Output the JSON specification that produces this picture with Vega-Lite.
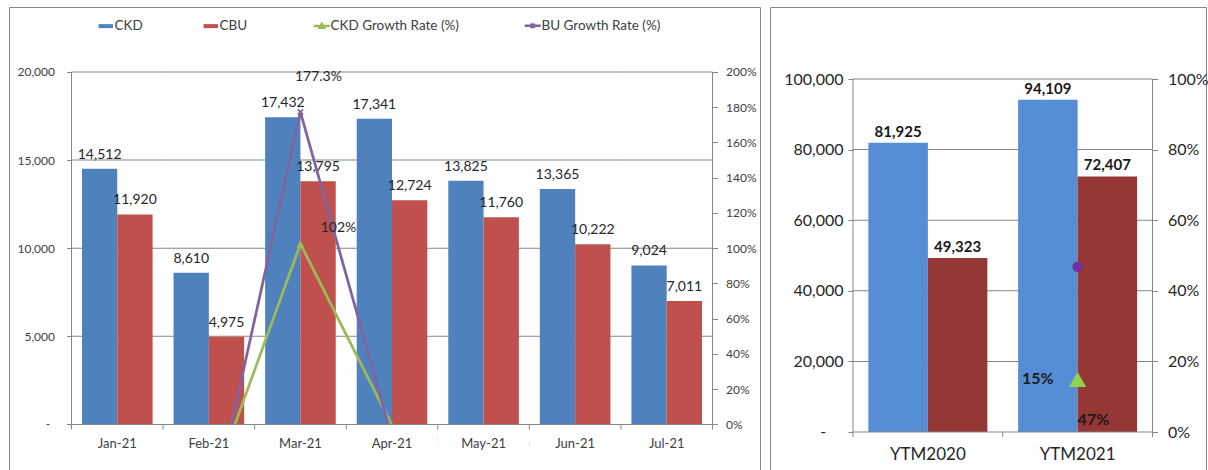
{
  "$schema": "https://vega.github.io/schema/vega-lite/v6.json",
  "padding": {"left": 8, "top": 6, "right": 0, "bottom": 0},
  "background": "white",
  "spacing": 8,
  "datasets": {
    "gridL": [
      {"m": "Jan-21", "v": [5000, 10000, 15000, 20000]},
      {"m": "Feb-21", "v": [5000, 10000, 15000, 20000]},
      {"m": "Mar-21", "v": [5000, 10000, 15000, 20000]},
      {"m": "Apr-21", "v": [5000, 10000, 15000, 20000]},
      {"m": "May-21", "v": [5000, 10000, 15000, 20000]},
      {"m": "Jun-21", "v": [5000, 10000, 15000, 20000]},
      {"m": "Jul-21", "v": [5000, 10000, 15000, 20000]}
    ],
    "gridR": [
      {"p": "YTM2020", "v": [20000, 40000, 60000, 80000, 100000]},
      {"p": "YTM2021", "v": [20000, 40000, 60000, 80000, 100000]}
    ]
  },
  "config": {
    "view": {"stroke": "#868686", "strokeWidth": 1},
    "axis": {"grid": false, "domain": false, "labelFont": "Lato", "labelColor": "#404040", "tickColor": "#868686", "tickSize": 5, "zindex": 1},
    "text": {"font": "Lato"},
    "legend": {"labelFont": "Lato"}
  },
  "resolve": {"scale": {"color": "independent", "xOffset": "independent"}},
  "hconcat": [
    {
      "width": 751,
      "height": 464,
      "data": {"values": [
        {"m": "Jan-21", "CKD": 14512, "CBU": 11920, "ckd_growth": null, "cbu_growth": null},
        {"m": "Feb-21", "CKD": 8610, "CBU": 4975, "ckd_growth": -0.4067, "cbu_growth": -0.5826},
        {"m": "Mar-21", "CKD": 17432, "CBU": 13795, "ckd_growth": 1.0246, "cbu_growth": 1.7729},
        {"m": "Apr-21", "CKD": 17341, "CBU": 12724, "ckd_growth": -0.0052, "cbu_growth": -0.0776},
        {"m": "May-21", "CKD": 13825, "CBU": 11760, "ckd_growth": -0.2028, "cbu_growth": -0.0758},
        {"m": "Jun-21", "CKD": 13365, "CBU": 10222, "ckd_growth": -0.0333, "cbu_growth": -0.1308},
        {"m": "Jul-21", "CKD": 9024, "CBU": 7011, "ckd_growth": -0.3248, "cbu_growth": -0.3141}
      ]},
      "layer": [
        {
          "layer": [
            {
              "data": {"name": "gridL"},
              "transform": [{"flatten": ["v"]}],
              "mark": {"type": "tick", "orient": "horizontal", "size": 91.57, "thickness": 1, "color": "#868686", "opacity": 1},
              "encoding": {
                "x": {"field": "m", "type": "nominal", "title": null, "scale": {"domain": ["Jan-21", "Feb-21", "Mar-21", "Apr-21", "May-21", "Jun-21", "Jul-21"], "paddingInner": 0, "paddingOuter": 0.6007, "align": 0.5682}},
                "y": {"field": "v", "type": "quantitative", "title": null, "scale": {"domain": [-2638.3, 23687.9], "nice": false, "zero": false}}
              }
            },
            {
              "transform": [{"fold": ["CKD", "CBU"], "as": ["series", "value"]}],
              "mark": {"type": "bar", "opacity": 1},
              "encoding": {
                "x": {"field": "m", "type": "nominal", "title": null,
                  "scale": {"domain": ["Jan-21", "Feb-21", "Mar-21", "Apr-21", "May-21", "Jun-21", "Jul-21"], "paddingInner": 0, "paddingOuter": 0.6007, "align": 0.5682},
                  "axis": {"orient": "bottom", "offset": -46.5, "labels": false, "ticks": false}},
                "xOffset": {"field": "series", "type": "nominal", "scale": {"domain": ["CKD", "CBU"], "paddingInner": 0, "paddingOuter": 0.297}},
                "y": {"field": "value", "type": "quantitative", "stack": null, "title": null,
                  "scale": {"domain": [-2638.3, 23687.9], "nice": false, "zero": false},
                  "axis": {"orient": "left", "offset": -62.5, "values": [0, 5000, 10000, 15000, 20000], "labelExpr": "datum.value == 0 ? '' : format(datum.value, ',')", "labelPadding": 12, "labelFontSize": 12}},
                "color": {"field": "series", "type": "nominal",
                  "scale": {"domain": ["CKD", "CBU", "ckd_growth", "cbu_growth"], "range": ["#4F81BD", "#C0504D", "#9BBB59", "#8064A2"]},
                  "legend": {
                    "orient": "none", "legendX": 90, "legendY": 12, "direction": "horizontal", "title": null,
                    "symbolSize": 1024, "labelFontSize": 13.5, "labelColor": "#404040", "labelOffset": 2, "columnPadding": 60, "padding": 0,
                    "labelExpr": "datum.label == 'ckd_growth' ? 'CKD Growth Rate (%)' : datum.label == 'cbu_growth' ? 'BU Growth Rate (%)' : datum.label",
                    "encoding": {"symbols": {
                      "shape": {"value": {"expr": "datum.value == 'CKD' || datum.value == 'CBU' ? 'M-0.45,-0.125H0.45V0.125H-0.45Z' : datum.value == 'ckd_growth' ? 'M-0.5,0H0.5M-0.14,0.12L0,-0.12L0.14,0.12Z' : 'M-0.5,0H0.5M-0.13,-0.13L0.13,0.13M-0.13,0.13L0.13,-0.13'"}},
                      "fill": {"value": {"expr": "datum.value == 'CKD' ? '#4F81BD' : datum.value == 'CBU' ? '#C0504D' : datum.value == 'ckd_growth' ? '#9BBB59' : '#8064A2'"}},
                      "stroke": {"value": {"expr": "datum.value == 'CKD' ? '#4F81BD' : datum.value == 'CBU' ? '#C0504D' : datum.value == 'ckd_growth' ? '#9BBB59' : '#8064A2'"}},
                      "strokeWidth": {"value": {"expr": "datum.value == 'CKD' || datum.value == 'CBU' ? 0 : 2.5"}},
                      "opacity": {"value": 1}
                    }}
                  }}
              }
            },
            {
              "transform": [{"fold": ["CKD", "CBU"], "as": ["series", "value"]}],
              "mark": {"type": "text", "fontSize": 14, "dy": -14, "color": "#262626", "baseline": "middle"},
              "encoding": {
                "x": {"field": "m", "type": "nominal", "title": null, "scale": {"domain": ["Jan-21", "Feb-21", "Mar-21", "Apr-21", "May-21", "Jun-21", "Jul-21"], "paddingInner": 0, "paddingOuter": 0.6007, "align": 0.5682}},
                "xOffset": {"field": "series", "type": "nominal", "scale": {"domain": ["CKD", "CBU"], "paddingInner": 0, "paddingOuter": 0.297}},
                "y": {"field": "value", "type": "quantitative", "title": null, "scale": {"domain": [-2638.3, 23687.9], "nice": false, "zero": false}},
                "text": {"field": "value", "type": "quantitative", "format": ","}
              }
            }
          ]
        },
        {
          "layer": [
            {
              "transform": [{"fold": ["ckd_growth", "cbu_growth"], "as": ["series", "rate"]}],
              "mark": {"type": "line", "strokeWidth": 2.75},
              "encoding": {
                "x": {"field": "m", "type": "nominal", "title": null, "scale": {"domain": ["Jan-21", "Feb-21", "Mar-21", "Apr-21", "May-21", "Jun-21", "Jul-21"], "paddingInner": 0, "paddingOuter": 0.6007, "align": 0.5682}},
                "y": {"field": "rate", "type": "quantitative", "title": null,
                  "scale": {"domain": [-0.26383, 2.36879], "nice": false, "zero": false},
                  "axis": {"orient": "right", "offset": -47.5, "values": [0, 0.2, 0.4, 0.6, 0.8, 1, 1.2, 1.4, 1.6, 1.8, 2], "format": ".0%", "labelPadding": 8, "labelFontSize": 12}},
                "color": {"field": "series", "type": "nominal", "scale": {"domain": ["CKD", "CBU", "ckd_growth", "cbu_growth"], "range": ["#4F81BD", "#C0504D", "#9BBB59", "#8064A2"]}}
              }
            },
            {
              "transform": [{"filter": "datum.ckd_growth != null && datum.ckd_growth >= 0"}],
              "mark": {"type": "point", "shape": "triangle-up", "filled": true, "size": 60, "color": "#9BBB59", "opacity": 1},
              "encoding": {
                "x": {"field": "m", "type": "nominal", "title": null},
                "y": {"field": "ckd_growth", "type": "quantitative", "title": null, "scale": {"domain": [-0.26383, 2.36879], "nice": false, "zero": false}}
              }
            },
            {
              "transform": [{"filter": "datum.cbu_growth != null && datum.cbu_growth >= 0"}],
              "mark": {"type": "point", "shape": "M-0.5,-0.5L0.5,0.5M-0.5,0.5L0.5,-0.5", "filled": false, "size": 110, "color": "#8064A2", "strokeWidth": 1.75, "opacity": 1},
              "encoding": {
                "x": {"field": "m", "type": "nominal", "title": null},
                "y": {"field": "cbu_growth", "type": "quantitative", "title": null, "scale": {"domain": [-0.26383, 2.36879], "nice": false, "zero": false}}
              }
            },
            {
              "transform": [{"filter": "datum.m == 'Mar-21'"}],
              "mark": {"type": "text", "fontSize": 14, "dx": 18, "dy": -35, "color": "#262626", "baseline": "middle"},
              "encoding": {
                "x": {"field": "m", "type": "nominal", "title": null},
                "y": {"field": "cbu_growth", "type": "quantitative", "title": null, "scale": {"domain": [-0.26383, 2.36879], "nice": false, "zero": false}},
                "text": {"field": "cbu_growth", "type": "quantitative", "format": ".1%"}
              }
            },
            {
              "transform": [{"filter": "datum.m == 'Mar-21'"}],
              "mark": {"type": "text", "fontSize": 14, "dx": 38, "dy": -16, "color": "#262626", "baseline": "middle"},
              "encoding": {
                "x": {"field": "m", "type": "nominal", "title": null},
                "y": {"field": "ckd_growth", "type": "quantitative", "title": null, "scale": {"domain": [-0.26383, 2.36879], "nice": false, "zero": false}},
                "text": {"field": "ckd_growth", "type": "quantitative", "format": ".0%"}
              }
            },
            {
              "mark": {"type": "bar", "color": "white", "opacity": 1},
              "encoding": {
                "x": {"field": "m", "type": "nominal", "title": null},
                "y": {"datum": 0, "type": "quantitative", "title": null, "scale": {"domain": [-0.26383, 2.36879], "nice": false, "zero": false}},
                "y2": {"datum": -0.26383}
              }
            }
          ]
        },
        {
          "layer": [
            {
              "mark": {"type": "tick", "orient": "horizontal", "size": 91.57, "thickness": 1, "color": "#868686", "opacity": 1},
              "encoding": {
                "x": {"field": "m", "type": "nominal", "title": null},
                "y": {"datum": 0, "type": "quantitative", "axis": null, "scale": {"domain": [-2638.3, 23687.9], "nice": false, "zero": false}}
              }
            },
            {
              "mark": {"type": "rule", "color": "#868686", "strokeWidth": 1},
              "encoding": {
                "x": {"field": "m", "type": "nominal", "bandPosition": 0, "title": null},
                "y": {"datum": 0, "type": "quantitative", "axis": null, "scale": {"domain": [-2638.3, 23687.9], "nice": false, "zero": false}},
                "y2": {"datum": -283.7}
              }
            },
            {
              "mark": {"type": "text", "fontSize": 13, "dy": 19.5, "color": "#404040", "baseline": "middle"},
              "encoding": {
                "x": {"field": "m", "type": "nominal", "title": null},
                "y": {"datum": 0, "type": "quantitative", "axis": null, "scale": {"domain": [-2638.3, 23687.9], "nice": false, "zero": false}},
                "text": {"field": "m", "type": "nominal"}
              }
            },
            {
              "data": {"values": [{"m": "Jan-21"}]},
              "mark": {"type": "rule", "color": "#868686", "strokeWidth": 1},
              "encoding": {
                "x": {"field": "m", "type": "nominal", "bandPosition": 0, "title": null},
                "y": {"datum": 0, "type": "quantitative", "axis": null, "scale": {"domain": [-2638.3, 23687.9], "nice": false, "zero": false}},
                "y2": {"datum": 20000}
              }
            },
            {
              "data": {"values": [{"m": "Jan-21"}]},
              "mark": {"type": "text", "text": "-", "fontSize": 12, "dx": -23.5, "color": "#404040", "baseline": "middle", "align": "center"},
              "encoding": {
                "x": {"field": "m", "type": "nominal", "bandPosition": 0, "title": null},
                "y": {"datum": 0, "type": "quantitative", "axis": null, "scale": {"domain": [-2638.3, 23687.9], "nice": false, "zero": false}}
              }
            },
            {
              "data": {"values": [{"m": "Jul-21"}]},
              "mark": {"type": "rule", "color": "#868686", "strokeWidth": 1},
              "encoding": {
                "x": {"field": "m", "type": "nominal", "bandPosition": 1, "title": null},
                "y": {"datum": -283.7, "type": "quantitative", "axis": null, "scale": {"domain": [-2638.3, 23687.9], "nice": false, "zero": false}},
                "y2": {"datum": 20000}
              }
            }
          ]
        }
      ],
      "resolve": {"scale": {"y": "independent"}}
    },
    {
      "width": 436,
      "height": 464,
      "data": {"values": [
        {"p": "YTM2020", "CKD": 81925, "CBU": 49323, "ckd_growth": null, "cbu_growth": null},
        {"p": "YTM2021", "CKD": 94109, "CBU": 72407, "ckd_growth": 0.1487, "cbu_growth": 0.468}
      ]},
      "layer": [
        {
          "layer": [
            {
              "data": {"name": "gridR"},
              "transform": [{"flatten": ["v"]}],
              "mark": {"type": "tick", "orient": "horizontal", "size": 149.75, "thickness": 1, "color": "#868686", "opacity": 1},
              "encoding": {
                "x": {"field": "p", "type": "nominal", "title": null, "scale": {"domain": ["YTM2020", "YTM2021"], "paddingInner": 0, "paddingOuter": 0.4558, "align": 0.608}},
                "y": {"field": "v", "type": "quantitative", "title": null, "scale": {"domain": [-11048, 120397], "nice": false, "zero": false}}
              }
            },
            {
              "transform": [{"fold": ["CKD", "CBU"], "as": ["series", "value"]}],
              "mark": {"type": "bar", "opacity": 1},
              "encoding": {
                "x": {"field": "p", "type": "nominal", "title": null,
                  "scale": {"domain": ["YTM2020", "YTM2021"], "paddingInner": 0, "paddingOuter": 0.4558, "align": 0.608},
                  "axis": {"orient": "bottom", "offset": -39, "ticks": false, "labelPadding": 14, "labelFontSize": 17, "labelAngle": 0, "labelAlign": "center", "labelBaseline": "top", "labelColor": "#262626"}},
                "xOffset": {"field": "series", "type": "nominal", "scale": {"domain": ["CKD", "CBU"], "paddingInner": 0, "paddingOuter": 0.2584}},
                "y": {"field": "value", "type": "quantitative", "stack": null, "title": null,
                  "scale": {"domain": [-11048, 120397], "nice": false, "zero": false},
                  "axis": {"orient": "left", "offset": -83, "values": [0, 20000, 40000, 60000, 80000, 100000], "labelExpr": "datum.value == 0 ? '' : format(datum.value, ',')", "labelPadding": 5, "labelFontSize": 16, "labelColor": "#262626"}},
                "color": {"field": "series", "type": "nominal", "legend": null,
                  "scale": {"domain": ["CKD", "CBU"], "range": ["#558ED5", "#953735"]}}
              }
            },
            {
              "transform": [{"fold": ["CKD", "CBU"], "as": ["series", "value"]}],
              "mark": {"type": "text", "fontSize": 15, "fontWeight": "bold", "dy": -11, "color": "#1a1a1a", "baseline": "middle"},
              "encoding": {
                "x": {"field": "p", "type": "nominal", "title": null, "scale": {"domain": ["YTM2020", "YTM2021"], "paddingInner": 0, "paddingOuter": 0.4558, "align": 0.608}},
                "xOffset": {"field": "series", "type": "nominal", "scale": {"domain": ["CKD", "CBU"], "paddingInner": 0, "paddingOuter": 0.2584}},
                "y": {"field": "value", "type": "quantitative", "title": null, "scale": {"domain": [-11048, 120397], "nice": false, "zero": false}},
                "text": {"field": "value", "type": "quantitative", "format": ","}
              }
            }
          ]
        },
        {
          "layer": [
            {
              "transform": [{"filter": "datum.ckd_growth != null"}],
              "mark": {"type": "point", "shape": "triangle-up", "filled": true, "size": 300, "color": "#92D050", "opacity": 1},
              "encoding": {
                "x": {"field": "p", "type": "nominal", "title": null},
                "y": {"field": "ckd_growth", "type": "quantitative", "title": null,
                  "scale": {"domain": [-0.11048, 1.20397], "nice": false, "zero": false},
                  "axis": {"orient": "right", "offset": -53.5, "values": [0, 0.2, 0.4, 0.6, 0.8, 1], "format": ".0%", "labelPadding": 10, "labelFontSize": 16, "labelColor": "#262626"}}
              }
            },
            {
              "transform": [{"filter": "datum.cbu_growth != null"}],
              "mark": {"type": "point", "shape": "circle", "filled": true, "size": 110, "color": "#7030A0", "opacity": 1},
              "encoding": {
                "x": {"field": "p", "type": "nominal", "title": null},
                "y": {"field": "cbu_growth", "type": "quantitative", "title": null, "scale": {"domain": [-0.11048, 1.20397], "nice": false, "zero": false}}
              }
            },
            {
              "transform": [{"filter": "datum.ckd_growth != null"}],
              "mark": {"type": "text", "fontSize": 16, "fontWeight": "bold", "align": "right", "dx": -24, "dy": -1, "color": "#1a1a1a", "baseline": "middle"},
              "encoding": {
                "x": {"field": "p", "type": "nominal", "title": null},
                "y": {"field": "ckd_growth", "type": "quantitative", "title": null, "scale": {"domain": [-0.11048, 1.20397], "nice": false, "zero": false}},
                "text": {"field": "ckd_growth", "type": "quantitative", "format": ".0%"}
              }
            },
            {
              "transform": [{"filter": "datum.cbu_growth != null"}],
              "mark": {"type": "text", "fontSize": 16, "fontWeight": "bold", "align": "left", "dx": 0, "dy": 153, "color": "#1a1a1a", "baseline": "middle"},
              "encoding": {
                "x": {"field": "p", "type": "nominal", "title": null},
                "y": {"field": "cbu_growth", "type": "quantitative", "title": null, "scale": {"domain": [-0.11048, 1.20397], "nice": false, "zero": false}},
                "text": {"field": "cbu_growth", "type": "quantitative", "format": ".0%"}
              }
            }
          ]
        },
        {
          "layer": [
            {
              "mark": {"type": "tick", "orient": "horizontal", "size": 149.75, "thickness": 1, "color": "#868686", "opacity": 1},
              "encoding": {
                "x": {"field": "p", "type": "nominal", "title": null},
                "y": {"datum": 0, "type": "quantitative", "axis": null, "scale": {"domain": [-11048, 120397], "nice": false, "zero": false}}
              }
            },
            {
              "mark": {"type": "rule", "color": "#868686", "strokeWidth": 1},
              "encoding": {
                "x": {"field": "p", "type": "nominal", "bandPosition": 0, "title": null},
                "y": {"datum": 0, "type": "quantitative", "axis": null, "scale": {"domain": [-11048, 120397], "nice": false, "zero": false}},
                "y2": {"datum": -1416}
              }
            },
            {
              "data": {"values": [{"p": "YTM2020"}]},
              "mark": {"type": "rule", "color": "#868686", "strokeWidth": 1},
              "encoding": {
                "x": {"field": "p", "type": "nominal", "bandPosition": 0, "title": null},
                "y": {"datum": 0, "type": "quantitative", "axis": null, "scale": {"domain": [-11048, 120397], "nice": false, "zero": false}},
                "y2": {"datum": 100000}
              }
            },
            {
              "data": {"values": [{"p": "YTM2020"}]},
              "mark": {"type": "text", "text": "-", "fontSize": 16, "dx": -29.7, "color": "#262626", "baseline": "middle", "align": "center"},
              "encoding": {
                "x": {"field": "p", "type": "nominal", "bandPosition": 0, "title": null},
                "y": {"datum": 0, "type": "quantitative", "axis": null, "scale": {"domain": [-11048, 120397], "nice": false, "zero": false}}
              }
            },
            {
              "data": {"values": [{"p": "YTM2021"}]},
              "mark": {"type": "rule", "color": "#868686", "strokeWidth": 1},
              "encoding": {
                "x": {"field": "p", "type": "nominal", "bandPosition": 1, "title": null},
                "y": {"datum": -1416, "type": "quantitative", "axis": null, "scale": {"domain": [-11048, 120397], "nice": false, "zero": false}},
                "y2": {"datum": 100000}
              }
            }
          ]
        }
      ],
      "resolve": {"scale": {"y": "independent"}}
    }
  ]
}
